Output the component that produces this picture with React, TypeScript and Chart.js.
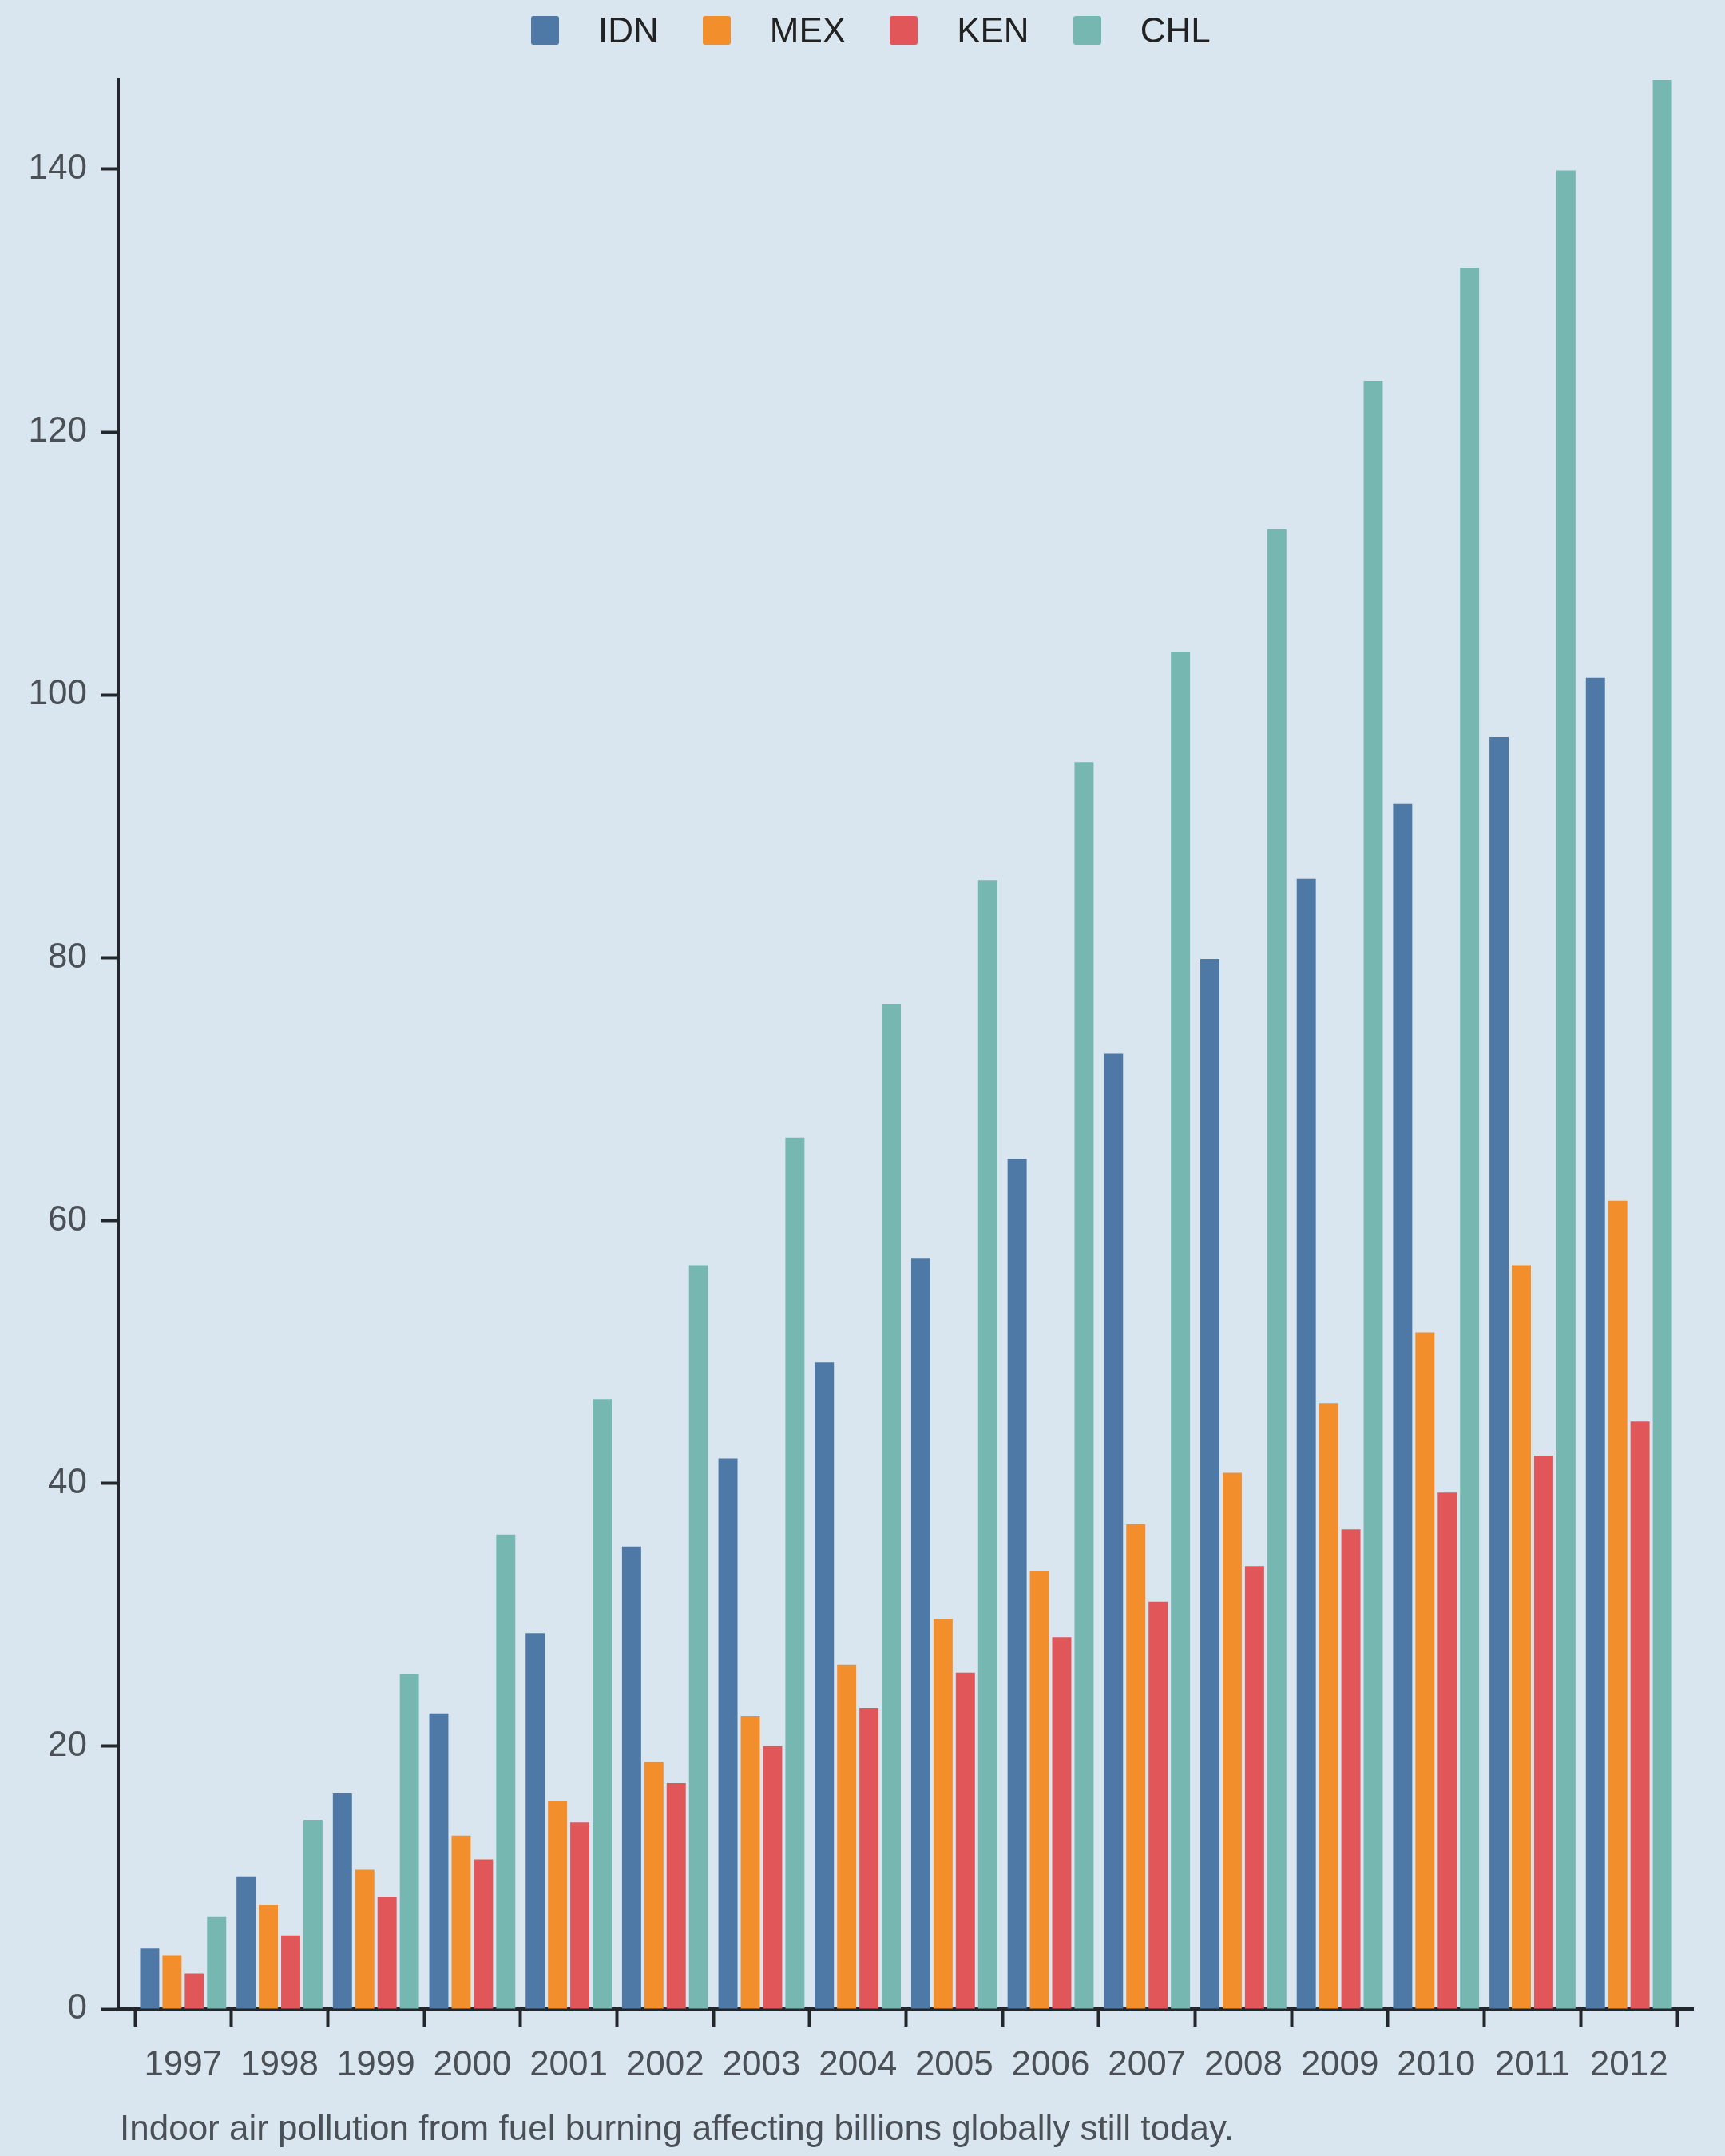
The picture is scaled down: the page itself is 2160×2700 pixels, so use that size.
import { useEffect, useRef } from 'react'
import { Chart, type ChartConfiguration, type Plugin, registerables } from 'chart.js'

Chart.register(...registerables)

const years = ['1997', '1998', '1999', '2000', '2001', '2002', '2003', '2004', '2005', '2006', '2007', '2008', '2009', '2010', '2011', '2012']
const idn = [4.6, 10.1, 16.4, 22.5, 28.6, 35.2, 41.9, 49.2, 57.1, 64.7, 72.7, 79.9, 86.0, 91.7, 96.8, 101.3]
const mex = [4.1, 7.9, 10.6, 13.2, 15.8, 18.8, 22.3, 26.2, 29.7, 33.3, 36.9, 40.8, 46.1, 51.5, 56.6, 61.5]
const ken = [2.7, 5.6, 8.5, 11.4, 14.2, 17.2, 20.0, 22.9, 25.6, 28.3, 31.0, 33.7, 36.5, 39.3, 42.1, 44.7]
const chl = [7.0, 14.4, 25.5, 36.1, 46.4, 56.6, 66.3, 76.5, 85.9, 94.9, 103.3, 112.6, 123.9, 132.5, 139.9, 146.8]

const series = [
  { label: 'IDN', data: idn, color: '#4e79a7' },
  { label: 'MEX', data: mex, color: '#f28e2b' },
  { label: 'KEN', data: ken, color: '#e15759' },
  { label: 'CHL', data: chl, color: '#76b7b2' },
]

const caption = 'Indoor air pollution from fuel burning affecting billions globally still today.'

const BG = '#d9e6f0'
const AXIS = '#23272c'
const TEXT = '#4b5057'
const FONT = '"Liberation Sans", Arial, sans-serif'
const FONT_SIZE = 44

// x軸の両端を少し内側に寄せる（軸線はそのまま）
const insetPlugin: Plugin = {
  id: 'xInset',
  afterLayout(chart) {
    const x: any = chart.scales.x
    x._startPixel = x.left + 21
    x._endPixel = x.right - 20
    x._length = x._endPixel - x._startPixel
  },
}

function BarChart() {
  const chartRef = useRef<HTMLCanvasElement>(null)
  const chartInstance = useRef<Chart | null>(null)

  useEffect(() => {
    if (!chartRef.current) return
    if (chartInstance.current) chartInstance.current.destroy()
    const ctx = chartRef.current.getContext('2d')
    if (!ctx) return

    const config: ChartConfiguration = {
      type: 'bar',
      data: {
        labels: years,
        datasets: series.map((s) => ({
          label: s.label,
          data: s.data,
          backgroundColor: s.color,
          borderWidth: 0,
          barPercentage: 0.857,
          categoryPercentage: 0.926,
        })),
      },
      options: {
        responsive: true,
        maintainAspectRatio: false,
        animation: false,
        layout: { padding: { top: 100, right: 40, bottom: 74, left: 0 } },
        plugins: {
          legend: { display: false },
          tooltip: { enabled: false },
        },
        scales: {
          x: {
            grid: {
              display: true,
              drawOnChartArea: false,
              drawTicks: true,
              tickLength: 22,
              tickWidth: 4,
              tickColor: AXIS,
              color: AXIS,
              offset: true,
            },
            border: { display: true, color: AXIS, width: 4 },
            ticks: {
              color: TEXT,
              font: { family: FONT, size: FONT_SIZE },
              padding: 22,
              autoSkip: false,
              maxRotation: 0,
            },
            afterFit: (s) => {
              s.height = 110
            },
          },
          y: {
            min: 0,
            max: Math.max(...chl),
            grid: {
              drawOnChartArea: false,
              drawTicks: true,
              tickLength: 22,
              tickWidth: 4,
              tickColor: AXIS,
              color: AXIS,
            },
            border: { display: true, color: AXIS, width: 4 },
            ticks: {
              stepSize: 20,
              includeBounds: false,
              color: TEXT,
              font: { family: FONT, size: FONT_SIZE },
              padding: 17,
            },
            afterFit: (s) => {
              s.width = 148
            },
          },
        },
      },
      plugins: [insetPlugin],
    }

    chartInstance.current = new Chart(ctx, config)
    return () => {
      if (chartInstance.current) {
        chartInstance.current.destroy()
        chartInstance.current = null
      }
    }
  }, [])

  return (
    <div style={{ position: 'absolute', left: 0, top: 0, width: 2160, height: 2700 }}>
      <canvas ref={chartRef} />
    </div>
  )
}

export default function App() {
  useEffect(() => {
    document.body.style.margin = '0'
    document.body.style.background = BG
  }, [])

  return (
    <div style={{ position: 'relative', width: 2160, height: 2700, background: BG, overflow: 'hidden', fontFamily: FONT }}>
      <BarChart />
      <div style={{ position: 'absolute', left: 665, top: 20, height: 36, display: 'flex', alignItems: 'center' }}>
        {series.map((s) => (
          <div key={s.label} style={{ display: 'flex', alignItems: 'center', marginRight: 55 }}>
            <span style={{ width: 35, height: 36, background: s.color, borderRadius: 3, display: 'inline-block' }} />
            <span style={{ marginLeft: 49, fontSize: FONT_SIZE, lineHeight: 1, color: '#222' }}>{s.label}</span>
          </div>
        ))}
      </div>
      <div style={{ position: 'absolute', left: 150, top: 2643, fontSize: FONT_SIZE, lineHeight: 1, color: TEXT, whiteSpace: 'nowrap' }}>
        {caption}
      </div>
    </div>
  )
}
